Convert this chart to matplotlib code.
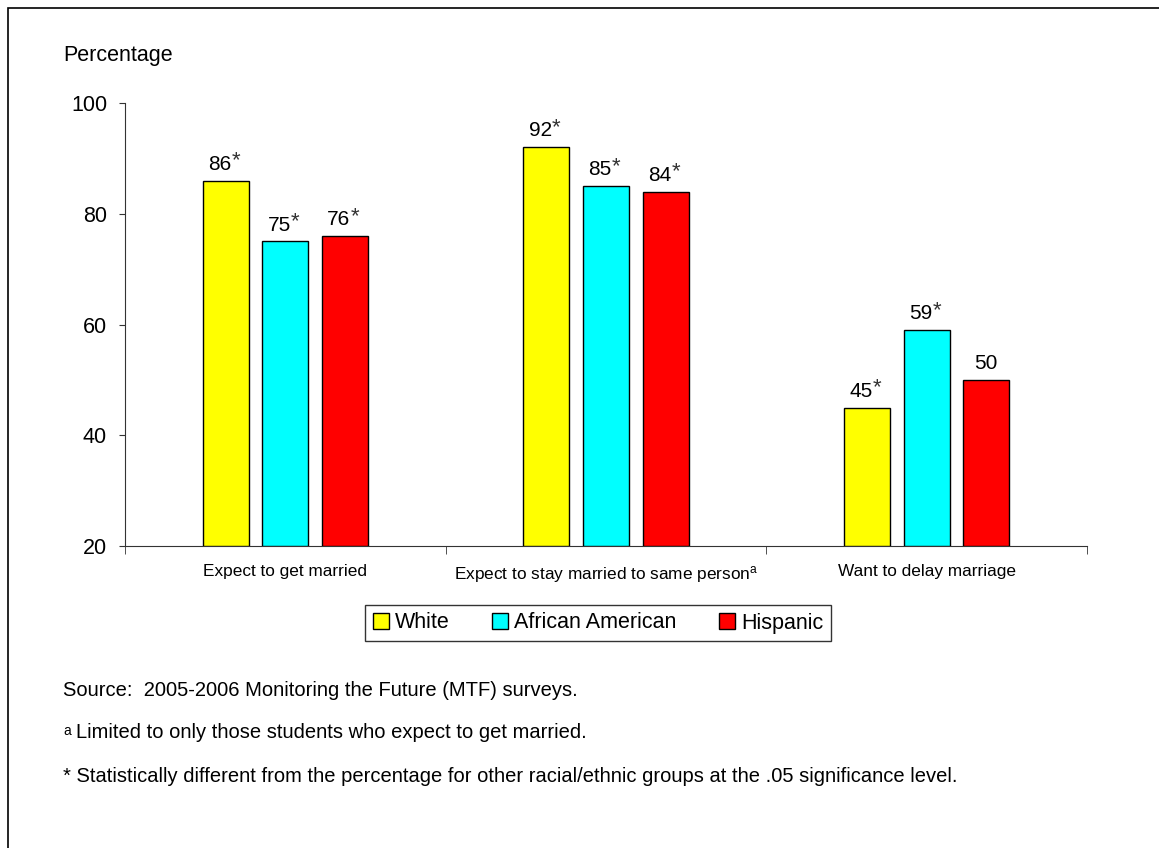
import numpy as np
import matplotlib.pyplot as plt
from matplotlib.patches import Rectangle, Patch

plt.rcParams['font.family'] = ['Liberation Sans', 'DejaVu Sans']
plt.rcParams['mathtext.fontset'] = 'custom'
plt.rcParams['mathtext.rm'] = 'Liberation Sans'
plt.rcParams['mathtext.it'] = 'Liberation Sans'

# data
categories = ["Expect to get married",
              "Expect to stay married to same person$^{\\rm a}$",
              "Want to delay marriage"]
groups = ["White", "African American", "Hispanic"]
white = [86, 92, 45]
african_american = [75, 85, 59]
hispanic = [76, 84, 50]
white_sig = [True, True, True]
aa_sig = [True, True, True]
hisp_sig = [True, True, False]
colors = ["#FFFF00", "#00FFFF", "#FF0000"]

fig = plt.figure(figsize=(11.59, 8.48), dpi=100)
ax = fig.add_axes([0.1079, 0.3561, 0.83, 0.5224])

# outer frame
fig.patches.append(Rectangle((8/1159, -0.1), 1.2, 1 - 8/848 + 0.1, transform=fig.transFigure,
                             fill=False, edgecolor="black", linewidth=1.2))

x = np.arange(len(categories))
w = 0.143
step = 0.186
series = [white, african_american, hispanic]
sigs = [white_sig, aa_sig, hisp_sig]
for i, (vals, sig, c) in enumerate(zip(series, sigs, colors)):
    pos = x + (i - 1) * step
    ax.bar(pos, np.array(vals) - 20, w, bottom=20, color=c, edgecolor="black", linewidth=1, zorder=3)
    for p, v, s in zip(pos, vals, sig):
        if s:
            ax.annotate(str(v), (p, v), xytext=(4, 5), textcoords="offset points",
                        ha="right", va="bottom", fontsize=15)
            ax.annotate("*", (p, v), xytext=(4, 6.5), textcoords="offset points",
                        ha="left", va="bottom", fontsize=16, color="#333333")
        else:
            ax.annotate(str(v), (p, v), xytext=(0, 5), textcoords="offset points",
                        ha="center", va="bottom", fontsize=15)

ax.set_ylim(20, 100)
ax.set_xlim(-0.5, 2.5)
ax.set_yticks([20, 40, 60, 80, 100])
ax.tick_params(axis="y", labelsize=15.5, length=4.5, color="#333333", pad=8.5)
ax.set_xticks(x)
ax.set_xticklabels(categories, fontsize=12.4)
ax.set_xticks([-0.5, 0.5, 1.5, 2.5], minor=True)
ax.tick_params(axis="x", which="major", length=0, pad=13)
ax.tick_params(axis="x", which="minor", length=6, color="#333333")
for s in ["top", "right"]:
    ax.spines[s].set_visible(False)
for s in ["left", "bottom"]:
    ax.spines[s].set_color("#333333")

fig.text(63/1159, 1 - 55/848, "Percentage", fontsize=15.5, va="center", ha="left")

handles = [Patch(facecolor=c, edgecolor="black", label=g) for c, g in zip(colors, groups)]
leg = fig.legend(handles=handles, loc="center", bbox_to_anchor=(598/1159, 1 - 623/848),
                 ncol=3, fontsize=15.5, frameon=True, fancybox=False, edgecolor="black",
                 handlelength=0.75, handleheight=0.75, handletextpad=0.25, columnspacing=2.0,
                 borderpad=0.35)
leg.get_frame().set_linewidth(1)

fig.text(63/1159, 1 - 690/848, "Source:  2005-2006 Monitoring the Future (MTF) surveys.", fontsize=14.5, va="center")
fig.text(63/1159, 1 - 731/848, "a", fontsize=10, va="center")
fig.text(76/1159, 1 - 733/848, "Limited to only those students who expect to get married.", fontsize=14.5, va="center")
fig.text(63/1159, 1 - 777/848, "* Statistically different from the percentage for other racial/ethnic groups at the .05 significance level.",
         fontsize=14.5, va="center")

fig.savefig("out.png", dpi=100)
